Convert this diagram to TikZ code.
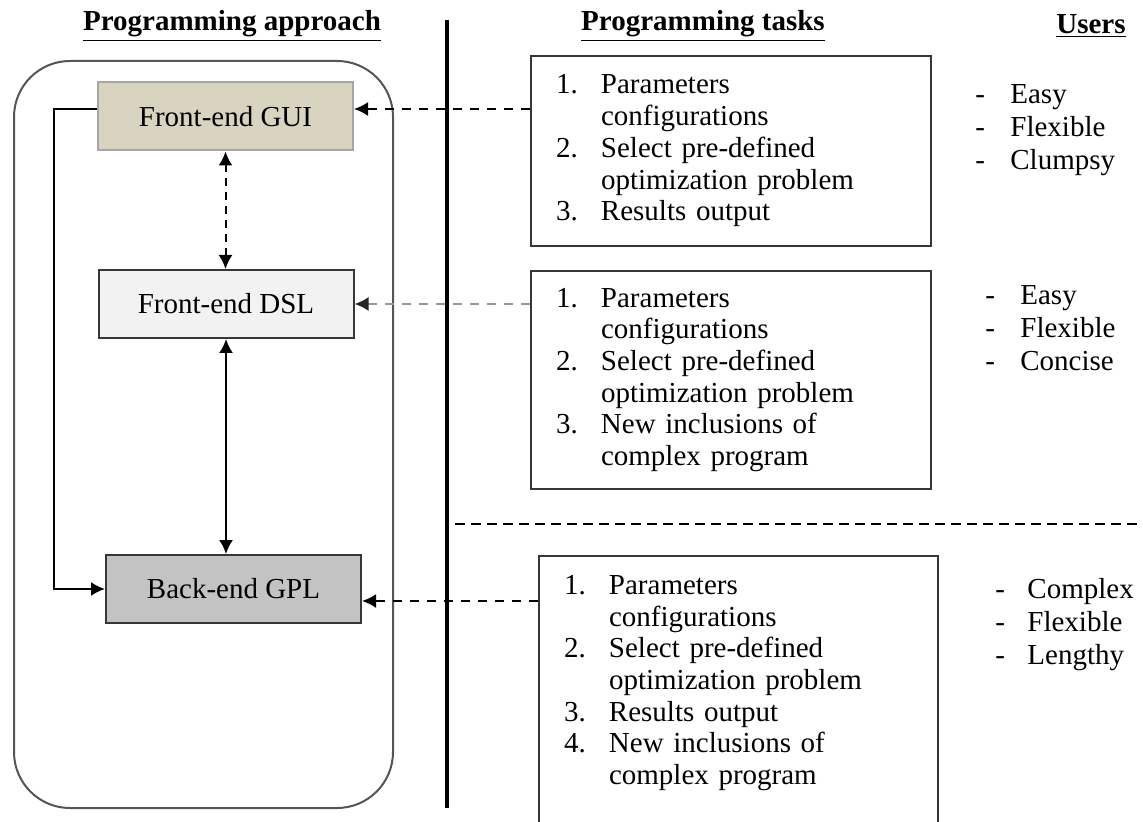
\documentclass[tikz,border=0pt]{standalone}
\usepackage{fontspec}
\setmainfont{Liberation Serif}
\usepackage{tikz}
\usepackage{xcolor}
\usetikzlibrary{arrows.meta}
\definecolor{guitan}{RGB}{217,212,192}
\definecolor{dslgray}{RGB}{242,242,242}
\definecolor{gplgray}{RGB}{195,195,195}
\definecolor{framegray}{RGB}{85,85,85}
\definecolor{boxedge}{RGB}{55,55,55}
\definecolor{dimarrow}{RGB}{150,150,150}
\newcommand{\textsize}{\fontsize{14.5}{15.85}\selectfont}
\tikzstyle{layernode} = [rectangle, minimum width=127.5pt, minimum height=34pt, text centered, draw=boxedge, line width=1pt, font=\textsize]
\tikzstyle{taskbox} = [rectangle, anchor=north west, draw=boxedge, line width=1pt, inner xsep=12.5pt, text width=175pt, align=left, font=\textsize]
\tikzstyle{usersnode} = [anchor=west, inner sep=0pt, align=left, font=\fontsize{14.5}{16.5}\selectfont]
\tikzstyle{heading} = [font=\textsize\bfseries]
\tikzstyle{arrow} = [line width=1pt, -{Latex[length=7pt,width=7pt]}]
\tikzstyle{twoway} = [line width=1pt, {Latex[length=7pt,width=7pt]}-{Latex[length=7pt,width=7pt]}]
\tikzstyle{dasharrow} = [arrow, dash pattern=on 4.5pt off 4pt]

\begin{document}
\begin{tikzpicture}[x=0.5pt, y=-0.5pt]
    \useasboundingbox (0,0) rectangle (1143,822);
    \clip (0,0) rectangle (1143,822);

    % headings
    \node[heading] (hdapproach) at (232,26) {\underline{Programming approach}};
    \node[heading] (hdtasks) at (703,26) {\underline{Programming tasks}};
    \node[heading] (hdusers) at (1091,26) {\underline{Users}};

    % left column
    \node[draw=framegray, line width=1pt, rounded corners=28pt, minimum width=189.5pt, minimum height=373.5pt] (approach) at (203.5,434.5) {};
    \node[layernode, fill=guitan, draw=gray!70] (gui) at (225.5,116.5) {Front-end GUI};
    \node[layernode, fill=dslgray] (dsl) at (226,304) {Front-end DSL};
    \node[layernode, fill=gplgray] (gpl) at (233.5,589) {Back-end GPL};

    \draw[line width=1.6pt] (447,20) -- (447,808);
    \draw[line width=1pt, dash pattern=on 5pt off 3pt] (455,524) -- (1143,524);

    % task boxes
    \node[taskbox, minimum height=95pt] (taskA) at (530,55) {%
        \begin{tabular}{@{}p{22.5pt}@{}l@{}}
        1. & Parameters\\
           & configurations\\
        2. & Select pre-defined\\
           & optimization problem\\
        3. & Results output
        \end{tabular}};
    \node[taskbox, minimum height=109pt] (taskB) at (530,270) {%
        \begin{tabular}{@{}p{22.5pt}@{}l@{}}
        1. & Parameters\\
           & configurations\\
        2. & Select pre-defined\\
           & optimization problem\\
        3. & New inclusions of\\
           & complex program
        \end{tabular}};
    \node[taskbox, text width=174.5pt, minimum height=143pt] (taskC) at (538,555) {%
        \begin{tabular}{@{}p{22.5pt}@{}l@{}}
        1. & Parameters\\
           & configurations\\
        2. & Select pre-defined\\
           & optimization problem\\
        3. & Results output\\
        4. & New inclusions of\\
           & complex program\\
           &
        \end{tabular}};

    % users
    \node[usersnode] (usersA) at (975,130) {%
        \begin{tabular}{@{}p{17.5pt}@{}l@{}}
        - & Easy\\ - & Flexible\\ - & Clumpsy
        \end{tabular}};
    \node[usersnode] (usersB) at (985,331) {%
        \begin{tabular}{@{}p{17.5pt}@{}l@{}}
        - & Easy\\ - & Flexible\\ - & Concise
        \end{tabular}};
    \node[usersnode] (usersC) at (995,625) {%
        \begin{tabular}{@{}p{16pt}@{}l@{}}
        - & Complex\\ - & Flexible\\ - & Lengthy
        \end{tabular}};

    % connectors
    \coordinate (guiin) at ([yshift=3.75pt]gui.east);
    \coordinate (guiout) at ([yshift=3.75pt]gui.west);
    \coordinate (gplin) at ([yshift=-6pt]gpl.east);

    \draw[dasharrow] (taskA.west |- guiin) -- (guiin);
    \draw[dasharrow, draw=dimarrow, -{Latex[length=7pt,width=7pt,color=black!85]}] (taskB.west |- dsl.east) -- (dsl.east);
    \draw[dasharrow] (taskC.west |- gplin) -- (gplin);
    \draw[twoway, dash pattern=on 4pt off 3pt] (gui.south) -- (gui.south |- dsl.north);
    \draw[twoway] (dsl.south) -- (dsl.south |- gpl.north);
    \draw[arrow] (guiout) -- ++(-21.5pt,0) |- (gpl.west);
\end{tikzpicture}
\end{document}
